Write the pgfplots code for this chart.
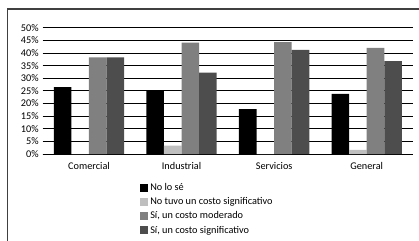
\documentclass[border=0pt]{standalone}
\usepackage{fontspec}
\setmainfont{Carlito}
\usepackage{pgfplots}
\pgfplotsset{compat=1.18}
\definecolor{cA}{HTML}{000000}
\definecolor{cB}{HTML}{BFBFBF}
\definecolor{cC}{HTML}{808080}
\definecolor{cD}{HTML}{4D4D4D}
\begin{document}
\begin{tikzpicture}[x=1bp,y=1bp]
\useasboundingbox (0,0) rectangle (419,241);
\draw[line width=1.3bp, color=black!75] (7.5,-10) -- (7.5,232) -- (430,232);
\begin{axis}[
  at={(42.7bp,87bp)}, anchor=south west,
  scale only axis, width=370.3bp, height=126.3bp,
  xmin=-0.5, xmax=3.5, ymin=0, ymax=50,
  ybar=0pt, bar width=0.19,
  axis x line*=bottom, axis y line*=left,
  x axis line style={black, line width=0.9bp, -},
  y axis line style={draw=none},
  xtick={0,1,2,3}, xticklabels={Comercial,Industrial,Servicios,General},
  ytick={0,5,...,50},
  yticklabel={\pgfmathprintnumber{\tick}\%},
  /pgf/number format/assume math mode=true,
  tick style={draw=none},
  ymajorgrids, major grid style={black, line width=0.8bp},
  ticklabel style={font=\fontsize{10.3}{12}\selectfont},
  xticklabel style={yshift=-1bp},
  yticklabel style={xshift=-0.5bp},
  legend style={at={(0.263,-0.215)}, anchor=north west, draw=none,
    font=\fontsize{10.3}{12}\selectfont, row sep=1.6bp, inner sep=0pt},
  legend cell align=left,
  legend image code/.code={\fill[#1] (0bp,-4bp) rectangle (8bp,4bp);},
]
\addplot[fill=cA, draw=none] coordinates {(0,26.5) (1,25.3) (2,17.8) (3,23.8)};
\addplot[fill=cB, draw=none] coordinates {(0,0) (1,3.3) (2,0) (3,1.6)};
\addplot[fill=cC, draw=none] coordinates {(0,38.3) (1,44.1) (2,44.3) (3,42.0)};
\addplot[fill=cD, draw=none] coordinates {(0,38.3) (1,32.2) (2,41.2) (3,36.8)};
\legend{{No lo sé}, {No tuvo un costo significativo}, {Sí, un costo moderado}, {Sí, un costo significativo}}
\end{axis}
\end{tikzpicture}
\end{document}
